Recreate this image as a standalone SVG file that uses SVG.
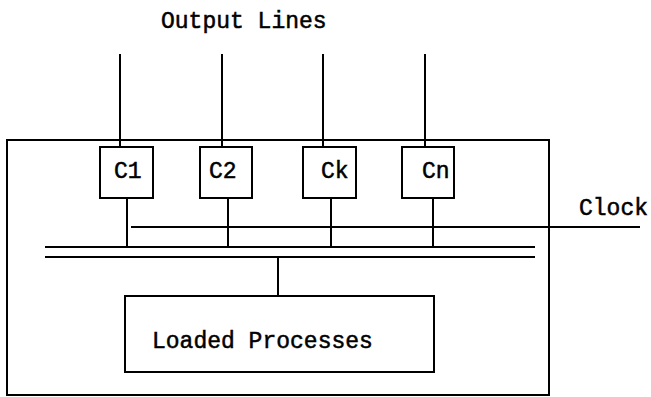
<svg xmlns="http://www.w3.org/2000/svg" width="651" height="397" viewBox="0 0 651 397">
<style>
.ln{stroke:#000;stroke-width:2;fill:none}
.bx{stroke:#000;stroke-width:2;fill:#fff}
.t{font-family:"Liberation Mono","DejaVu Sans Mono",monospace;font-size:23px;fill:#000;stroke:#000;stroke-width:0.5}
</style>
<rect width="651" height="397" fill="#fff"/>
<g id="system">
<rect x="7" y="140" width="542" height="255" class="ln"/>
</g>
<g id="connectors">
<line x1="120" y1="54" x2="120" y2="147" class="ln"/>
<line x1="222" y1="54" x2="222" y2="147" class="ln"/>
<line x1="323" y1="54" x2="323" y2="147" class="ln"/>
<line x1="425" y1="54" x2="425" y2="147" class="ln"/>
<line x1="127" y1="198" x2="127" y2="247" class="ln"/>
<line x1="228" y1="198" x2="228" y2="247" class="ln"/>
<line x1="331" y1="198" x2="331" y2="247" class="ln"/>
<line x1="433" y1="198" x2="433" y2="247" class="ln"/>
<line x1="131" y1="227" x2="640" y2="227" class="ln"/>
<line x1="45" y1="247" x2="535" y2="247" class="ln"/>
<line x1="45" y1="257" x2="535" y2="257" class="ln"/>
<line x1="278" y1="257" x2="278" y2="296" class="ln"/>
</g>
<g id="c1"><rect x="100" y="147" width="53" height="51" class="bx"/><text x="114" y="178" class="t">C1</text></g>
<g id="c2"><rect x="200" y="147" width="52" height="51" class="bx"/><text x="209" y="178" class="t">C2</text></g>
<g id="ck"><rect x="303" y="147" width="53" height="51" class="bx"/><text x="321" y="178" class="t">Ck</text></g>
<g id="cn"><rect x="402" y="147" width="52" height="51" class="bx"/><text x="422" y="178" class="t">Cn</text></g>
<g id="loaded"><rect x="125" y="296" width="309" height="76" class="bx"/><text x="152" y="348" class="t">Loaded Processes</text></g>
<text x="161" y="28" class="t">Output Lines</text>
<text x="579" y="215" class="t">Clock</text>
</svg>
